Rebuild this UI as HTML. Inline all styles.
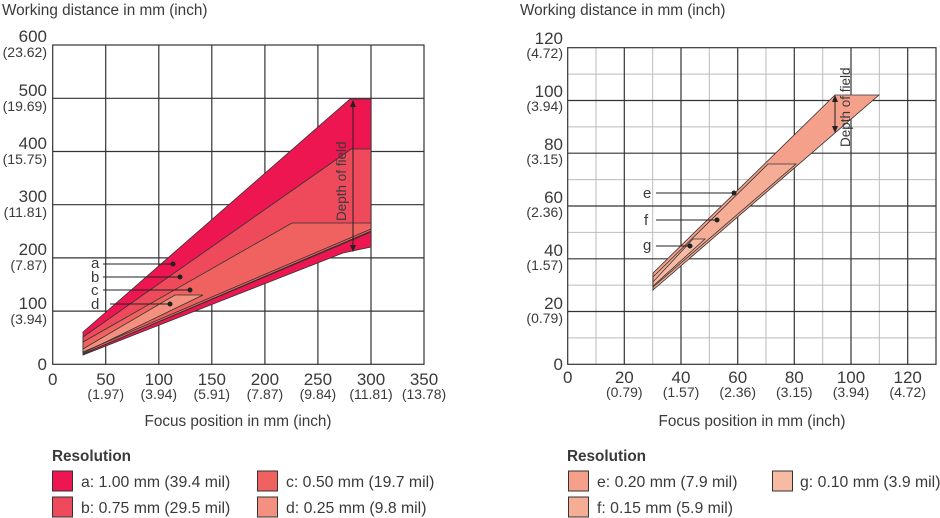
<!DOCTYPE html>
<html><head><meta charset="utf-8"><style>
html,body{margin:0;padding:0;background:#fff;}
svg{display:block;font-family:"Liberation Sans",sans-serif;fill:#3a3a3a;}
</style></head><body>
<svg width="940" height="518" viewBox="0 0 940 518" xmlns="http://www.w3.org/2000/svg">
<text x="2" y="15" font-size="15.3">Working distance in mm (inch)</text>
<text x="520" y="15" font-size="15.3">Working distance in mm (inch)</text>
<!-- LEFT grid -->
<g stroke="#333" stroke-width="1.2" fill="none">
<rect x="52.7" y="45" width="371.3" height="319.3"/>
<line x1="105.7" y1="45" x2="105.7" y2="364.3"/><line x1="158.8" y1="45" x2="158.8" y2="364.3"/><line x1="211.8" y1="45" x2="211.8" y2="364.3"/><line x1="264.9" y1="45" x2="264.9" y2="364.3"/><line x1="317.9" y1="45" x2="317.9" y2="364.3"/><line x1="371" y1="45" x2="371" y2="364.3"/>
<line x1="52.7" y1="311.1" x2="424" y2="311.1"/><line x1="52.7" y1="257.9" x2="424" y2="257.9"/><line x1="52.7" y1="204.7" x2="424" y2="204.7"/><line x1="52.7" y1="151.5" x2="424" y2="151.5"/><line x1="52.7" y1="98.3" x2="424" y2="98.3"/>
</g>
<g stroke="#333" stroke-width="0.8">
<polygon points="83,332 350,99 371,99 371,247 343,253 83,355" fill="#ee1651"/>
<polygon points="83,337 347,152 351,149 371,149 371,230 83,354" fill="#ee4a5c"/>
<polygon points="83,342 292,223 371,223 371,231 83,354" fill="#f0625f"/>
<polygon points="83,349 175,295 203,295 83,353" fill="#f39080"/>
<line x1="83" y1="352" x2="371" y2="229"/><line x1="83" y1="354" x2="371" y2="232"/>
</g>
<g stroke="#222" stroke-width="1" fill="#222">
<line x1="103" y1="264" x2="173" y2="264"/><circle cx="173" cy="264" r="2"/>
<line x1="103" y1="277" x2="180" y2="277"/><circle cx="180" cy="277" r="2"/>
<line x1="103" y1="290" x2="190" y2="290"/><circle cx="190" cy="290" r="2"/>
<line x1="110" y1="304" x2="170" y2="304"/><circle cx="170" cy="304" r="2"/>
<line x1="353" y1="104" x2="353" y2="248"/>
<polygon points="353,100 350,107 356,107" stroke="none"/><polygon points="353,252 350,245 356,245" stroke="none"/>
</g>
<g font-size="15">
<text x="91" y="268">a</text><text x="91" y="282">b</text><text x="91" y="295">c</text><text x="91" y="309">d</text>
</g>
<text transform="translate(346,221) rotate(-90)" font-size="13.5">Depth of field</text>
<g font-size="17" text-anchor="end">
<text x="47" y="42">600</text><text x="47" y="96">500</text><text x="47" y="149">400</text><text x="47" y="202">300</text><text x="47" y="255">200</text><text x="47" y="309">100</text><text x="47" y="370">0</text>
</g>
<g font-size="14" text-anchor="end">
<text x="47" y="57">(23.62)</text><text x="47" y="111">(19.69)</text><text x="47" y="164">(15.75)</text><text x="47" y="217">(11.81)</text><text x="47" y="270">(7.87)</text><text x="47" y="324">(3.94)</text>
</g>
<g font-size="17" text-anchor="middle">
<text x="52.7" y="385">0</text><text x="105.7" y="385">50</text><text x="158.8" y="385">100</text><text x="211.8" y="385">150</text><text x="264.9" y="385">200</text><text x="317.9" y="385">250</text><text x="371" y="385">300</text><text x="424" y="385">350</text>
</g>
<g font-size="14" text-anchor="middle">
<text x="105.7" y="399">(1.97)</text><text x="158.8" y="399">(3.94)</text><text x="211.8" y="399">(5.91)</text><text x="264.9" y="399">(7.87)</text><text x="317.9" y="399">(9.84)</text><text x="371" y="399">(11.81)</text><text x="424" y="399">(13.78)</text>
</g>
<text x="238" y="426" font-size="15.3" text-anchor="middle">Focus position in mm (inch)</text>
<!-- RIGHT grid -->
<g stroke="#bbb" stroke-width="1" fill="none">
<line x1="596" y1="47.7" x2="596" y2="364.3"/><line x1="652.7" y1="47.7" x2="652.7" y2="364.3"/><line x1="709.3" y1="47.7" x2="709.3" y2="364.3"/><line x1="766" y1="47.7" x2="766" y2="364.3"/><line x1="822.7" y1="47.7" x2="822.7" y2="364.3"/><line x1="879.3" y1="47.7" x2="879.3" y2="364.3"/>
<line x1="567.7" y1="337.9" x2="936" y2="337.9"/><line x1="567.7" y1="285.1" x2="936" y2="285.1"/><line x1="567.7" y1="232.4" x2="936" y2="232.4"/><line x1="567.7" y1="179.6" x2="936" y2="179.6"/><line x1="567.7" y1="126.9" x2="936" y2="126.9"/><line x1="567.7" y1="74.1" x2="936" y2="74.1"/>
</g>
<g stroke="#333" stroke-width="1.2" fill="none">
<rect x="567.7" y="47.7" width="368.3" height="316.6"/>
<line x1="624.3" y1="47.7" x2="624.3" y2="364.3"/><line x1="681" y1="47.7" x2="681" y2="364.3"/><line x1="737.7" y1="47.7" x2="737.7" y2="364.3"/><line x1="794.3" y1="47.7" x2="794.3" y2="364.3"/><line x1="851" y1="47.7" x2="851" y2="364.3"/><line x1="907.7" y1="47.7" x2="907.7" y2="364.3"/>
<line x1="567.7" y1="311.5" x2="936" y2="311.5"/><line x1="567.7" y1="258.8" x2="936" y2="258.8"/><line x1="567.7" y1="206" x2="936" y2="206"/><line x1="567.7" y1="153.2" x2="936" y2="153.2"/><line x1="567.7" y1="100.5" x2="936" y2="100.5"/>
</g>
<g stroke="#333" stroke-width="0.8">
<polygon points="653,273 835,95 879,95 653,290" fill="#f4a08b"/>
<polygon points="653,277 768,164 796,164 653,287" fill="#f5ad95"/>
<polygon points="653,282 693,239 705,239 653,286" fill="#f7bba3"/>
</g>
<g stroke="#222" stroke-width="1" fill="#222">
<line x1="656" y1="193" x2="734" y2="193"/><circle cx="734" cy="193" r="2"/>
<line x1="656" y1="220" x2="717" y2="220"/><circle cx="717" cy="220" r="2"/>
<line x1="656" y1="246" x2="690" y2="246"/><circle cx="690" cy="246" r="2"/>
<line x1="835" y1="99" x2="835" y2="129"/>
<polygon points="835,95 832,102 838,102" stroke="none"/><polygon points="835,133 832,126 838,126" stroke="none"/>
</g>
<g font-size="15">
<text x="643" y="198">e</text><text x="644" y="225">f</text><text x="643" y="250">g</text>
</g>
<text transform="translate(850,147) rotate(-90)" font-size="13.5">Depth of field</text>
<g font-size="17" text-anchor="end">
<text x="563" y="44">120</text><text x="563" y="97">100</text><text x="563" y="150">80</text><text x="563" y="203">60</text><text x="563" y="256">40</text><text x="563" y="309">20</text><text x="563" y="370">0</text>
</g>
<g font-size="14" text-anchor="end">
<text x="563" y="58">(4.72)</text><text x="563" y="111">(3.94)</text><text x="563" y="164">(3.15)</text><text x="563" y="217">(2.36)</text><text x="563" y="270">(1.57)</text><text x="563" y="323">(0.79)</text>
</g>
<g font-size="17" text-anchor="middle">
<text x="567.7" y="383">0</text><text x="624.3" y="383">20</text><text x="681" y="383">40</text><text x="737.7" y="383">60</text><text x="794.3" y="383">80</text><text x="851" y="383">100</text><text x="907.7" y="383">120</text>
</g>
<g font-size="14" text-anchor="middle">
<text x="624.3" y="397">(0.79)</text><text x="681" y="397">(1.57)</text><text x="737.7" y="397">(2.36)</text><text x="794.3" y="397">(3.15)</text><text x="851" y="397">(3.94)</text><text x="907.7" y="397">(4.72)</text>
</g>
<text x="752" y="426" font-size="15.3" text-anchor="middle">Focus position in mm (inch)</text>
<!-- legends -->
<text x="52" y="461" font-size="15.3" font-weight="bold">Resolution</text>
<g stroke="#333" stroke-width="1">
<rect x="52.5" y="471" width="20" height="20" fill="#ee1651"/>
<rect x="52.5" y="497" width="20" height="20" fill="#ee4a5c"/>
<rect x="257.5" y="471" width="20" height="20" fill="#f0625f"/>
<rect x="257.5" y="497" width="20" height="20" fill="#f39080"/>
</g>
<g font-size="15.8">
<text x="81" y="487">a: 1.00 mm (39.4 mil)</text>
<text x="81" y="513">b: 0.75 mm (29.5 mil)</text>
<text x="286" y="487">c: 0.50 mm (19.7 mil)</text>
<text x="286" y="513">d: 0.25 mm (9.8 mil)</text>
</g>
<text x="567" y="461" font-size="15.3" font-weight="bold">Resolution</text>
<g stroke="#333" stroke-width="1">
<rect x="568.5" y="471" width="20" height="20" fill="#f4a08b"/>
<rect x="568.5" y="497" width="20" height="20" fill="#f5ad95"/>
<rect x="772.5" y="471" width="20" height="20" fill="#f7bba3"/>
</g>
<g font-size="15.8">
<text x="597" y="487">e: 0.20 mm (7.9 mil)</text>
<text x="597" y="513">f: 0.15 mm (5.9 mil)</text>
<text x="800" y="487">g: 0.10 mm (3.9 mil)</text>
</g>
</svg>
</body></html>
